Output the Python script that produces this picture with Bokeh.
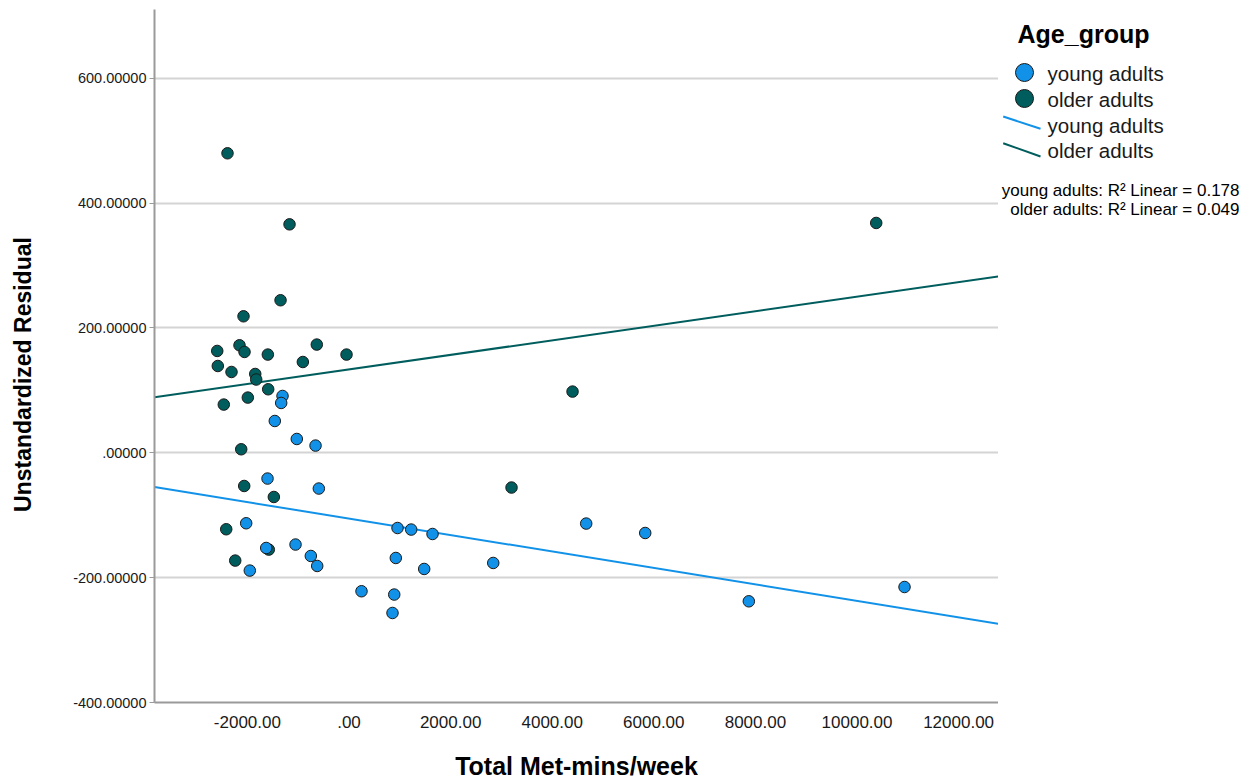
import numpy as np
from bokeh.plotting import figure
from bokeh.models import Range1d, FixedTicker, CustomJSTickFormatter
from bokeh.layouts import row
from bokeh.embed import file_html
from bokeh.resources import INLINE
from bokeh.core.properties import value

# ---------------- data ----------------
groups = ["young adults", "older adults"]
colors = ["#1192e8", "#005d5d"]

young_x = [-1309, -1335, -1461, -1028, -659, -1604, -594, -2024, 955, 1224,
           1644, -1630, -1053, -752, -626, -1953, 921, 1480, 246, 890,
           856, 2839, 4669, 5831, 7870, 10935]
young_y = [91.0, 79.8, 50.9, 22.1, 11.5, -41.3, -57.3, -112.9, -120.5, -123.0,
           -130.1, -152.5, -147.0, -165.3, -181.3, -188.7, -168.5, -186.1, -221.8, -227.1,
           -256.6, -176.5, -113.4, -128.5, -237.9, -215.0]

older_x = [-2392, -1171, -1348, -2077, -2594, -2156, -2057, -1598, -634, -49,
           -909, -2583, -2313, -1846, -1827, -1591, -1992, -2465, -2122, -2063,
           -1480, -2417, -2240, -1579, 4400, 3199, 10378]
older_y = [479.7, 365.9, 244.3, 218.6, 163.1, 172.2, 161.5, 157.3, 173.3, 157.3,
           145.4, 139.0, 129.4, 126.2, 117.3, 101.7, 88.4, 77.2, 5.6, -53.2,
           -70.8, -122.5, -172.7, -155.1, 98.0, -55.7, 368.1]

# linear fit lines: (intercept, slope)
young_fit = (-105.4, -0.01319)
older_fit = (133.5, 0.011654)
r_squared = [0.178, 0.049]

x_ticks = [-2000, 0, 2000, 4000, 6000, 8000, 10000, 12000]
y_ticks = [-400, -200, 0, 200, 400, 600]
x_title = "Total Met-mins/week"
y_title = "Unstandardized Residual"
legend_title = "Age_group"

FONT = "Liberation Sans"
H = 782
TOP, BOTTOM = 9, 80           # borders of the plotting frame (px)
FRAME_TOP, FRAME_BOT = TOP, H - BOTTOM

# ---------------- y title panel (frame aligned with the main frame) ----------------
yt = figure(width=40, height=H, output_backend="svg", toolbar_location=None,
            x_range=Range1d(0, 40), y_range=Range1d(H - FRAME_BOT, H - FRAME_TOP),
            x_axis_location=None, y_axis_location=None,
            min_border_left=0, min_border_right=0, min_border_top=TOP, min_border_bottom=BOTTOM)
yt.grid.visible = False
yt.outline_line_color = None
yt.text(x=[22], y=[H - 374], text=[y_title], angle=np.pi / 2, text_font=value(FONT),
        text_font_size="23px", text_font_style="bold", text_align="center",
        text_baseline="middle", text_color="#000000")

# ---------------- main plot ----------------
x_lo, x_hi = -3829, 12785
p = figure(width=958, height=H, output_backend="svg", toolbar_location=None,
           x_range=Range1d(x_lo, x_hi), y_range=Range1d(-400, 710),
           min_border_left=114, min_border_right=0, min_border_top=TOP, min_border_bottom=BOTTOM)
p.outline_line_color = None

p.xgrid.visible = False
p.ygrid.ticker = FixedTicker(ticks=y_ticks)
p.ygrid.grid_line_color = "#d4d4d4"
p.ygrid.grid_line_width = 2

for ax in (p.xaxis[0], p.yaxis[0]):
    ax.axis_line_color = "#9a9a9a"
    ax.axis_line_width = 2
    ax.major_tick_line_color = "#9a9a9a"
    ax.major_tick_line_width = 1
    ax.minor_tick_line_color = None
    ax.major_label_text_font = FONT
    ax.major_label_text_color = "#1a1a1a"

p.xaxis.ticker = FixedTicker(ticks=x_ticks)
p.xaxis.major_tick_out = 0
p.xaxis.major_tick_in = 0
p.xaxis.major_label_standoff = 13
p.xaxis.major_label_text_font_size = "17px"
p.xaxis.formatter = CustomJSTickFormatter(code="""
let s = tick.toFixed(2);
if (s.startsWith('0.')) s = s.slice(1);
else if (s.startsWith('-0.')) s = '-' + s.slice(2);
return s;""")
p.xaxis.axis_label = x_title
p.xaxis.axis_label_text_font = FONT
p.xaxis.axis_label_text_font_size = "25px"
p.xaxis.axis_label_text_font_style = "bold"
p.xaxis.axis_label_text_color = "#000000"
p.xaxis.axis_label_standoff = 21

p.yaxis.ticker = FixedTicker(ticks=y_ticks)
p.yaxis.major_tick_out = 5
p.yaxis.major_tick_in = 0
p.yaxis.major_label_standoff = 3
p.yaxis.major_label_text_font_size = "14.5px"
p.yaxis.formatter = CustomJSTickFormatter(code="""
let s = tick.toFixed(5);
if (s.startsWith('0.')) s = s.slice(1);
else if (s.startsWith('-0.')) s = '-' + s.slice(2);
return s;""")

# fit lines
fx = np.array([x_lo, x_hi], dtype=float)
p.line(fx, young_fit[0] + young_fit[1] * fx, line_color=colors[0], line_width=2)
p.line(fx, older_fit[0] + older_fit[1] * fx, line_color=colors[1], line_width=2)

# points
p.scatter(older_x, older_y, size=11.5, fill_color=colors[1], line_color="#1a1a1a", line_width=1)
p.scatter(young_x, young_y, size=11.5, fill_color=colors[0], line_color="#1a1a1a", line_width=1)

# ---------------- legend panel (page-pixel coordinates, y downwards) ----------------
lg = figure(width=258, height=H, output_backend="svg", toolbar_location=None,
            x_range=Range1d(0, 258), y_range=Range1d(FRAME_BOT, FRAME_TOP),
            x_axis_location=None, y_axis_location=None,
            min_border_left=0, min_border_right=0, min_border_top=TOP, min_border_bottom=BOTTOM)
lg.grid.visible = False
lg.outline_line_color = None

lg.text(x=[19], y=[33], text=[legend_title], text_font=value(FONT), text_font_size="25px",
        text_font_style="bold", text_align="left", text_baseline="middle", text_color="#000000")
lg.scatter(x=[26, 26], y=[72, 98], size=18, fill_color=colors, line_color="#1a1a1a", line_width=1)
lg.multi_line(xs=[[4.7, 42], [4.7, 42]], ys=[[116, 128.3], [142.7, 156]],
              line_color=colors, line_width=2)
lg.text(x=[49, 49, 49, 49], y=[73, 99, 125, 150], text=groups + groups, text_font=value(FONT),
        text_font_size="20.5px", text_align="left", text_baseline="middle", text_color="#1a1a1a")
lg.text(x=[241, 241], y=[190, 209],
        text=[f"{g}: R\u00b2 Linear = {r:.3f}" for g, r in zip(groups, r_squared)],
        text_font=value(FONT), text_font_size="17px", text_align="right",
        text_baseline="middle", text_color="#000000")

layout = row(yt, p, lg, spacing=0)
open("out.html", "w").write(file_html(layout, INLINE))
